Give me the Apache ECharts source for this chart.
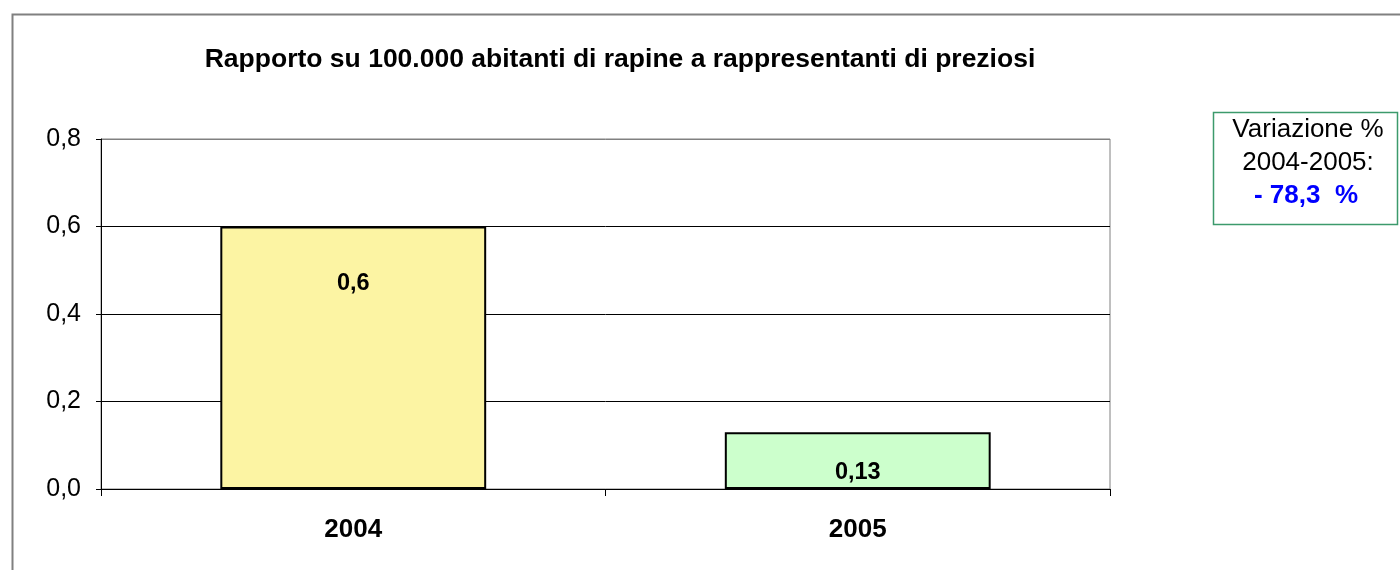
<!DOCTYPE html>
<html>
<head>
<meta charset="utf-8">
<script src="https://cdn.jsdelivr.net/npm/echarts@6/dist/echarts.min.js"></script>
<style>
  html, body { margin: 0; padding: 0; background: #fff; }
  #chart { width: 1400px; height: 570px; }
</style>
</head>
<body>
<div id="chart"></div>
<script>
// Rapine a rappresentanti di preziosi, rapporto su 100.000 abitanti
const categories = ['2004', '2005'];
const values = [0.6, 0.13];
const barColors = ['#FCF4A3', '#CCFFCC'];
const labelDistances = [45, 28];
const titleText = 'Rapporto su 100.000 abitanti di rapine a rappresentanti di preziosi';
const boxLines = ['Variazione %', '2004-2005:', '- 78,3  %'];

const fmt = v => v.toFixed(1).replace('.', ',');
const fmtLabel = v => String(v).replace('.', ',');
const FONT = 'Liberation Sans, Arial, sans-serif';

const chart = echarts.init(document.getElementById('chart'), null, { renderer: 'canvas' });

chart.setOption({
  animation: false,
  backgroundColor: '#ffffff',
  textStyle: { fontFamily: FONT },
  title: {
    text: titleText,
    left: 615,
    textAlign: 'center',
    top: 41,
    textStyle: { fontSize: 26.5, fontWeight: 'bold', color: '#000', fontFamily: FONT }
  },
  grid: {
    left: 101, right: 290, top: 139, bottom: 81,
    show: true, borderColor: '#808080', borderWidth: 1, backgroundColor: '#ffffff'
  },
  xAxis: {
    type: 'category',
    data: categories,
    axisLine: { lineStyle: { color: '#000', width: 1 } },
    axisTick: { show: true, length: 7, lineStyle: { color: '#000' } },
    axisLabel: { fontSize: 26, fontWeight: 'bold', color: '#000', margin: 28 },
    splitLine: { show: false }
  },
  yAxis: {
    type: 'value',
    min: 0, max: 0.8, interval: 0.2,
    axisLine: { show: true, lineStyle: { color: '#000', width: 1 } },
    axisTick: { show: true, length: 5, lineStyle: { color: '#000' } },
    axisLabel: { fontSize: 25, color: '#000', margin: 20, formatter: fmt },
    // gridlines black; the topmost one matches the grey plot border
    splitLine: { show: true, lineStyle: { color: ['#000', '#000', '#000', '#000', '#808080'], width: 1 } }
  },
  series: [{
    type: 'bar',
    barWidth: '52.7%',
    data: values.map((v, i) => ({
      value: v,
      itemStyle: { color: barColors[i], borderColor: '#000', borderWidth: 2 },
      label: { distance: labelDistances[i] }
    })),
    label: {
      show: true,
      position: 'insideTop',
      fontSize: 23.5,
      fontWeight: 'bold',
      color: '#000',
      formatter: p => fmtLabel(p.value)
    }
  }],
  graphic: [
    {
      type: 'rect',
      left: 10, top: 12,
      shape: { x: 0, y: 0, width: 1400, height: 600 },
      style: { fill: 'none', stroke: '#808080', lineWidth: 2 },
      silent: true, z: 100
    },
    {
      type: 'rect',
      shape: { x: 1213.5, y: 112.5, width: 184, height: 112 },
      style: { fill: '#fff', stroke: '#3C9A6C', lineWidth: 1.5 },
      z: 100
    },
    {
      type: 'text',
      x: 1308, y: 130, z: 101,
      style: { text: boxLines[0], fill: '#000', font: '26px "Liberation Sans", Arial, sans-serif', textAlign: 'center', textVerticalAlign: 'middle' }
    },
    {
      type: 'text',
      x: 1308, y: 163, z: 101,
      style: { text: boxLines[1], fill: '#000', font: '26px "Liberation Sans", Arial, sans-serif', textAlign: 'center', textVerticalAlign: 'middle' }
    },
    {
      type: 'text',
      x: 1306, y: 196, z: 101,
      style: { text: boxLines[2], fill: '#0000FF', font: 'bold 26px "Liberation Sans", Arial, sans-serif', textAlign: 'center', textVerticalAlign: 'middle' }
    }
  ]
});
</script>
</body>
</html>
